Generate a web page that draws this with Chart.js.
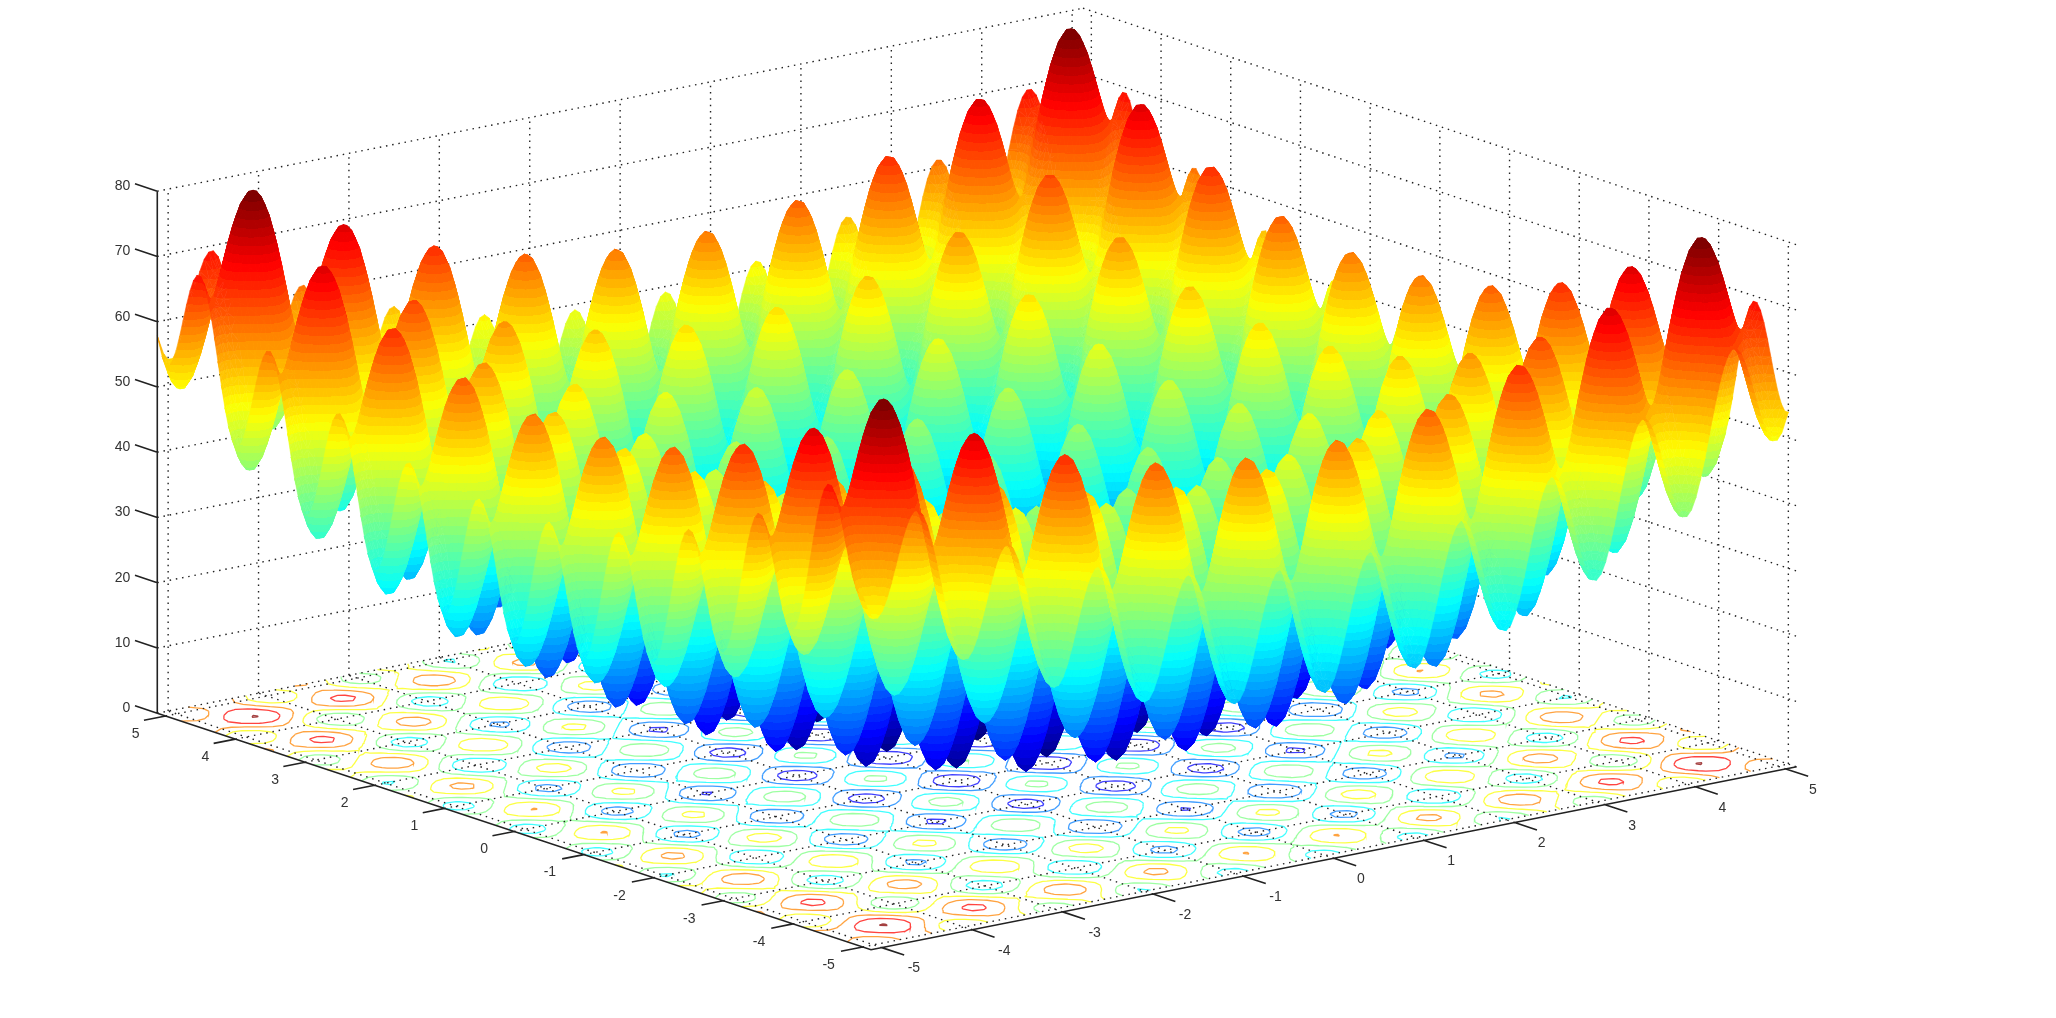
<!DOCTYPE html>
<html>
<head>
<meta charset="utf-8">
<title>Surface</title>
<style>
html, body { margin: 0; padding: 0; background: #fff; }
canvas { display: block; filter: blur(0.5px); }
</style>
<script src="https://cdn.jsdelivr.net/npm/chart.js@4"></script>
</head>
<body>
<canvas id="surfaceChart" width="2056" height="1018"></canvas>
<script>
// sample positions, same for both floor axes
const gridStops = [
  -5.12, -5.05,
  -5.0, -4.95, -4.9, -4.85, -4.8, -4.75, -4.7, -4.65, -4.6, -4.55, -4.5, -4.45, -4.4, -4.35, -4.3, -4.25, -4.2, -4.15, -4.1, -4.05,
  -4.0, -3.95, -3.9, -3.85, -3.8, -3.75, -3.7, -3.65, -3.6, -3.55, -3.5, -3.45, -3.4, -3.35, -3.3, -3.25, -3.2, -3.15, -3.1, -3.05,
  -3.0, -2.95, -2.9, -2.85, -2.8, -2.75, -2.7, -2.65, -2.6, -2.55, -2.5, -2.45, -2.4, -2.35, -2.3, -2.25, -2.2, -2.15, -2.1, -2.05,
  -2.0, -1.95, -1.9, -1.85, -1.8, -1.75, -1.7, -1.65, -1.6, -1.55, -1.5, -1.45, -1.4, -1.35, -1.3, -1.25, -1.2, -1.15, -1.1, -1.05,
  -1.0, -0.95, -0.9, -0.85, -0.8, -0.75, -0.7, -0.65, -0.6, -0.55, -0.5, -0.45, -0.4, -0.35, -0.3, -0.25, -0.2, -0.15, -0.1, -0.05,
  0,
  0.05, 0.1, 0.15, 0.2, 0.25, 0.3, 0.35, 0.4, 0.45, 0.5, 0.55, 0.6, 0.65, 0.7, 0.75, 0.8, 0.85, 0.9, 0.95, 1.0,
  1.05, 1.1, 1.15, 1.2, 1.25, 1.3, 1.35, 1.4, 1.45, 1.5, 1.55, 1.6, 1.65, 1.7, 1.75, 1.8, 1.85, 1.9, 1.95, 2.0,
  2.05, 2.1, 2.15, 2.2, 2.25, 2.3, 2.35, 2.4, 2.45, 2.5, 2.55, 2.6, 2.65, 2.7, 2.75, 2.8, 2.85, 2.9, 2.95, 3.0,
  3.05, 3.1, 3.15, 3.2, 3.25, 3.3, 3.35, 3.4, 3.45, 3.5, 3.55, 3.6, 3.65, 3.7, 3.75, 3.8, 3.85, 3.9, 3.95, 4.0,
  4.05, 4.1, 4.15, 4.2, 4.25, 4.3, 4.35, 4.4, 4.45, 4.5, 4.55, 4.6, 4.65, 4.7, 4.75, 4.8, 4.85, 4.9, 4.95, 5.0,
  5.05, 5.12
];

// height contribution of one axis at each grid stop; surface height = profile[u] + profile[v]
// peaks and valleys, values between them follow a Rastrigin-style curve
const heightProfile = [
  28.92, 25.99,
  25.00, 24.99, 25.92, 27.64, 29.95, 32.56, 35.18, 37.50, 39.25, 40.21, 40.25, 39.31, 37.45, 34.80, 31.58, 28.06, 24.55, 21.34, 18.72, 16.89,
  16.00, 16.09, 17.12, 18.94, 21.35, 24.06, 26.78, 29.20, 31.05, 32.11, 32.25, 31.41, 29.65, 27.10, 23.98, 20.56, 17.15, 14.04, 11.52, 9.79,
  9.00, 9.19, 10.32, 12.24, 14.75, 17.56, 20.38, 22.90, 24.85, 26.01, 26.25, 25.51, 23.85, 21.40, 18.38, 15.06, 11.75, 8.74, 6.32, 4.69,
  4.00, 4.29, 5.52, 7.54, 10.15, 13.06, 15.98, 18.60, 20.65, 21.91, 22.25, 21.61, 20.05, 17.70, 14.78, 11.56, 8.35, 5.44, 3.12, 1.59,
  1.00, 1.39, 2.72, 4.84, 7.55, 10.56, 13.58, 16.30, 18.45, 19.81, 20.25, 19.71, 18.25, 16.00, 13.18, 10.06, 6.95, 4.14, 1.92, 0.49,
  0,
  0.49, 1.92, 4.14, 6.95, 10.06, 13.18, 16.00, 18.25, 19.71, 20.25, 19.81, 18.45, 16.30, 13.58, 10.56, 7.55, 4.84, 2.72, 1.39, 1.00,
  1.59, 3.12, 5.44, 8.35, 11.56, 14.78, 17.70, 20.05, 21.61, 22.25, 21.91, 20.65, 18.60, 15.98, 13.06, 10.15, 7.54, 5.52, 4.29, 4.00,
  4.69, 6.32, 8.74, 11.75, 15.06, 18.38, 21.40, 23.85, 25.51, 26.25, 26.01, 24.85, 22.90, 20.38, 17.56, 14.75, 12.24, 10.32, 9.19, 9.00,
  9.79, 11.52, 14.04, 17.15, 20.56, 23.98, 27.10, 29.65, 31.41, 32.25, 32.11, 31.05, 29.20, 26.78, 24.06, 21.35, 18.94, 17.12, 16.09, 16.00,
  16.89, 18.72, 21.34, 24.55, 28.06, 31.58, 34.80, 37.45, 39.31, 40.25, 40.21, 39.25, 37.50, 35.18, 32.56, 29.95, 27.64, 25.92, 24.99, 25.00,
  25.99, 28.92
];

const floorTicks = [-5, -4, -3, -2, -1, 0, 1, 2, 3, 4, 5];
const heightTicks = [0, 10, 20, 30, 40, 50, 60, 70, 80];
const contourLevels = [10, 20, 30, 40, 50, 60, 70, 80];

const axisEnd = 5.12;
const colorTop = 80.5;
const colorSteps = 64;
// the surface stops at the -5 gridline on the near side of the second floor axis
const firstRow = 2;

// orthographic view of the box
function project(u, v, z) {
  return {
    x: 977 + u * 90.4 - v * 69.7,
    y: 740 - u * 17.87 - v * 23.1 - z * 6.525
  };
}

function jetColor(t, alpha = 1) {
  t = Math.max(0, Math.min(1, t));
  const ramp = c => Math.max(0, Math.min(1, 1.5 - Math.abs(4 * t - c)));
  return `rgba(${Math.round(ramp(3) * 255)},${Math.round(ramp(2) * 255)},${Math.round(ramp(1) * 255)},${alpha})`;
}

const bandColors = [];
for (let k = 0; k < colorSteps; k++) bandColors.push(jetColor(k / (colorSteps - 1)));

function polylines(list) {
  const data = [];
  list.forEach(points => {
    points.forEach(p => data.push(project(p[0], p[1], p[2])));
    data.push({ x: NaN, y: NaN });
  });
  return data;
}

const base = { pointRadius: 0, tension: 0, fill: false };
const datasets = [];

// floor contours, on every second stop since they look coarse in the picture
const last = gridStops.length - 1;
function crossing(level, a, b, za, zb) {
  const t = (level - za) / (zb - za);
  return [a[0] + (b[0] - a[0]) * t, a[1] + (b[1] - a[1]) * t, 0];
}
contourLevels.forEach(level => {
  const pieces = [];
  for (let j = firstRow; j < last; j += 2) {
    for (let i = 0; i < last; i += 2) {
      const c = [
        [gridStops[i], gridStops[j]], [gridStops[i + 2], gridStops[j]],
        [gridStops[i + 2], gridStops[j + 2]], [gridStops[i], gridStops[j + 2]]
      ];
      const h = [
        heightProfile[i] + heightProfile[j], heightProfile[i + 2] + heightProfile[j],
        heightProfile[i + 2] + heightProfile[j + 2], heightProfile[i] + heightProfile[j + 2]
      ];
      const hits = [];
      for (let k = 0; k < 4; k++) {
        const n = (k + 1) % 4;
        if ((h[k] < level) !== (h[n] < level)) hits.push(crossing(level, c[k], c[n], h[k], h[n]));
      }
      if (hits.length >= 2) pieces.push([hits[0], hits[1]]);
      if (hits.length === 4) pieces.push([hits[2], hits[3]]);
    }
  }
  datasets.push({ ...base, data: polylines(pieces), borderColor: jetColor(level / colorTop, 0.75), borderWidth: 1.3 });
});

// dotted floor and wall grid
const gridLines = [];
floorTicks.forEach(t => {
  gridLines.push([[t, -axisEnd, 0], [t, axisEnd, 0]]);
  gridLines.push([[-axisEnd, t, 0], [axisEnd, t, 0]]);
  gridLines.push([[t, axisEnd, 0], [t, axisEnd, 80]]);
  gridLines.push([[axisEnd, t, 0], [axisEnd, t, 80]]);
});
heightTicks.forEach(z => {
  gridLines.push([[-axisEnd, axisEnd, z], [axisEnd, axisEnd, z]]);
  gridLines.push([[axisEnd, axisEnd, z], [axisEnd, -axisEnd, z]]);
});
datasets.push({ ...base, data: polylines(gridLines), borderColor: "#222", borderWidth: 1.4, borderDash: [1.5, 4.8] });

// surface points, far row first and far end of each row first
const rowLength = gridStops.length;
const surfacePoints = [];
const surfaceHeights = [];
for (let j = last; j >= firstRow; j--) {
  for (let i = last; i >= 0; i--) {
    const z = heightProfile[i] + heightProfile[j];
    surfaceHeights.push(z);
    surfacePoints.push(project(gridStops[i], gridStops[j], z));
  }
}
const rowCount = surfacePoints.length / rowLength;
datasets.push({ ...base, data: surfacePoints, showLine: false, surface: true });

// solid axes and tick marks
const axisLines = [
  [[-axisEnd, axisEnd, 0], [-axisEnd, -axisEnd, 0], [axisEnd, -axisEnd, 0]],
  [[-axisEnd, axisEnd, 0], [-axisEnd, axisEnd, 80]]
];
floorTicks.forEach(t => {
  axisLines.push([[t, -axisEnd, 0], [t, -axisEnd - 0.32, 0]]);
  axisLines.push([[-axisEnd, t, 0], [-axisEnd - 0.24, t, 0]]);
});
heightTicks.forEach(z => {
  axisLines.push([[-axisEnd, axisEnd, z], [-axisEnd, axisEnd + 0.32, z]]);
});
datasets.push({ ...base, data: polylines(axisLines), borderColor: "#222", borderWidth: 1.6 });

// chart.js paints the first dataset last
datasets.reverse();

// one triangle, height is linear across it so a straight gradient follows the colour bands
function fillTriangle(ctx, a, b, c) {
  const s = [a, b, c].sort((p, q) => p.z - q.z);
  const lo = s[0], mid = s[1], hi = s[2];
  const bandSize = colorTop / colorSteps;
  let paint;
  if (hi.z - lo.z < 1e-6) {
    paint = bandColors[Math.min(colorSteps - 1, Math.floor(lo.z / bandSize))];
  } else {
    const f = (mid.z - lo.z) / (hi.z - lo.z);
    const ex = lo.x + (hi.x - lo.x) * f - mid.x;
    const ey = lo.y + (hi.y - lo.y) * f - mid.y;
    let nx = -ey, ny = ex;
    const len = Math.hypot(nx, ny);
    if (len < 1e-6) { nx = hi.x - lo.x; ny = hi.y - lo.y; } else { nx /= len; ny /= len; }
    const scale = len < 1e-6 ? 1 : (hi.x - lo.x) * nx + (hi.y - lo.y) * ny;
    paint = ctx.createLinearGradient(lo.x, lo.y, lo.x + nx * scale, lo.y + ny * scale);
    const first = Math.floor(lo.z / bandSize);
    const final = Math.min(colorSteps - 1, Math.floor(hi.z / bandSize));
    for (let k = first; k <= final; k++) {
      const from = Math.max(0, (k * bandSize - lo.z) / (hi.z - lo.z));
      const to = Math.min(1, ((k + 1) * bandSize - lo.z) / (hi.z - lo.z));
      paint.addColorStop(from, bandColors[k]);
      paint.addColorStop(to, bandColors[k]);
    }
  }
  ctx.fillStyle = paint;
  ctx.strokeStyle = paint;
  ctx.beginPath();
  ctx.moveTo(a.x, a.y);
  ctx.lineTo(b.x, b.y);
  ctx.lineTo(c.x, c.y);
  ctx.closePath();
  ctx.fill();
  ctx.stroke();
}

// fills the grid between the points chart.js has placed on its scales
const surfacePainter = {
  id: "surfacePainter",
  afterDatasetDraw(chart, args) {
    if (!chart.data.datasets[args.index].surface) return;
    const pts = args.meta.data;
    const { ctx } = chart;
    const at = k => ({ x: pts[k].x, y: pts[k].y, z: surfaceHeights[k] });
    ctx.save();
    ctx.lineWidth = 0.6;
    for (let r = 0; r < rowCount - 1; r++) {
      for (let q = 0; q < rowLength - 1; q++) {
        const k = r * rowLength + q;
        const far = at(k), side = at(k + 1), next = at(k + rowLength), near = at(k + rowLength + 1);
        fillTriangle(ctx, far, side, next);
        fillTriangle(ctx, side, next, near);
      }
    }
    ctx.restore();
  }
};

const tickText = {
  id: "tickText",
  afterDraw(chart) {
    const { ctx, scales } = chart;
    const put = (text, p, dx, dy) => {
      ctx.fillText(text, scales.x.getPixelForValue(p.x) + dx, scales.y.getPixelForValue(p.y) + dy);
    };
    ctx.save();
    ctx.font = '14px "Liberation Sans"';
    ctx.fillStyle = "#333";
    ctx.textBaseline = "middle";
    ctx.textAlign = "center";
    floorTicks.forEach(t => {
      put(String(t), project(t, -axisEnd, 0), t < 0 ? 32 : 27, 21);
      put(String(t), project(-axisEnd, t, 0), t < 0 ? -34 : -30, 18);
    });
    ctx.textAlign = "right";
    heightTicks.forEach(z => put(String(z), project(-axisEnd, axisEnd, z), -27, -5));
    ctx.restore();
  }
};

new Chart(document.getElementById("surfaceChart"), {
  type: "line",
  data: { datasets },
  options: {
    responsive: false,
    animation: false,
    events: [],
    layout: { padding: 0 },
    plugins: { legend: { display: false }, tooltip: { enabled: false } },
    scales: {
      x: { type: "linear", min: 0, max: 2056, display: false },
      y: { type: "linear", min: 0, max: 1018, reverse: true, display: false }
    }
  },
  plugins: [surfacePainter, tickText]
});
</script>
</body>
</html>
